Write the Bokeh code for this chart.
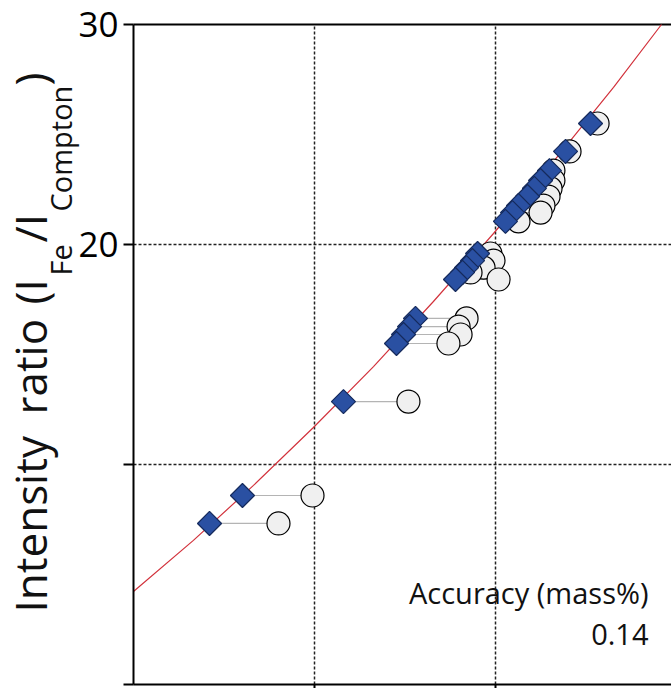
import math
from bokeh.plotting import figure
from bokeh.models import Range1d, FixedTicker, Label, ColumnDataSource, LinearAxis
from bokeh.embed import file_html
from bokeh.resources import INLINE

# ---- data ----
# calibration curve
CAL_X = [0.0, 3.31, 6.63, 9.94, 13.26, 16.57, 19.89, 23.20, 26.52, 29.17]
CAL_Y = [4.23, 6.55, 9.05, 11.68, 14.45, 17.41, 20.50, 23.77, 27.14, 30.0]

# intensity ratio of each sample
RATIO = [7.32, 8.59, 12.86, 16.64, 16.27, 15.91, 15.50,
         19.59, 19.27, 18.95, 18.73, 18.41,
         25.50, 24.23, 23.36, 22.91, 22.55, 22.18, 21.77, 21.45, 21.05]
# corrected (blue diamonds)
CORRECTED = [4.20, 6.02, 11.60, 15.58, 15.25, 14.92, 14.53,
             19.01, 18.73, 18.40, 18.18, 17.79,
             25.25, 23.87, 22.98, 22.49, 22.15, 21.77, 21.27, 20.94, 20.55]
# uncorrected (open circles)
UNCORRECTED = [8.01, 9.89, 15.19, 18.40, 17.96, 18.07, 17.40,
               19.72, 19.89, 19.34, 18.62, 20.17,
               25.64, 24.09, 23.20, 23.20, 23.04, 22.93, 22.65, 22.49, 21.27]

Y_TICKS = [0, 10, 20, 30]
Y_TICK_LABELS = {0: "", 10: "", 20: "20", 30: "30"}
GRID_X = [10, 20]
GRID_Y = [10, 20]
X_END = 29.72
Y_END = 30
ACCURACY_TITLE = "Accuracy (mass%)"
ACCURACY_VALUE = "0.14"

FONT = "Open Sans"

# page-pixel layout: axis at x=133, y=0 at 684 px, y=30 at 24 px
PX_X = 18.1   # px per x unit
PX_Y = 22.0   # px per y unit


def px_x(px):
    return (px - 133) / PX_X


def px_y(py):
    return (684 - py) / PX_Y


p = figure(width=671, height=688, output_backend="svg", toolbar_location=None,
           x_range=Range1d(px_x(0), px_x(671)), y_range=Range1d(px_y(688), px_y(0)),
           min_border_left=0, min_border_right=0, min_border_top=0,
           min_border_bottom=0)
p.outline_line_color = None
p.background_fill_color = "white"
p.border_fill_color = "white"
p.xaxis.visible = False
p.yaxis.visible = False
p.xgrid.visible = False
p.ygrid.visible = False

# y axis fixed at x=0
yax = LinearAxis(fixed_location=0, bounds=(0, Y_END))
yax.ticker = FixedTicker(ticks=Y_TICKS)
yax.major_label_overrides = Y_TICK_LABELS
yax.axis_line_width = 2
yax.axis_line_color = "black"
yax.major_tick_line_width = 2
yax.major_tick_line_color = "black"
yax.major_tick_out = 10
yax.major_tick_in = 0
yax.minor_tick_line_color = None
yax.major_label_text_font = FONT
yax.major_label_text_font_size = "35px"
yax.major_label_text_color = "black"
yax.major_label_standoff = 5
p.add_layout(yax, "left")

# x axis fixed at y=0 (labels cut off in the original)
xax = LinearAxis(fixed_location=0, bounds=(0, X_END))
xax.ticker = FixedTicker(ticks=GRID_X)
xax.major_label_overrides = {t: "" for t in GRID_X}
xax.axis_line_width = 2
xax.axis_line_color = "black"
xax.major_tick_line_width = 2
xax.major_tick_line_color = "black"
xax.major_tick_out = 8
xax.major_tick_in = 0
xax.minor_tick_line_color = None
p.add_layout(xax, "below")

# dotted grid lines from the axes
p.segment(x0=GRID_X, y0=[0] * len(GRID_X), x1=GRID_X, y1=[Y_END] * len(GRID_X),
          line_color="#222222", line_dash="3 2", line_width=1.5)
p.segment(x0=[0] * len(GRID_Y), y0=GRID_Y, x1=[X_END] * len(GRID_Y), y1=GRID_Y,
          line_color="#222222", line_dash="3 2", line_width=1.5)
# top frame line
p.segment(x0=[0], y0=[Y_END], x1=[X_END], y1=[Y_END], line_color="black", line_width=2)

# calibration line
p.line(CAL_X, CAL_Y, line_color="#d2323c", line_width=1.2)

src = ColumnDataSource(dict(y=RATIO, xc=CORRECTED, xu=UNCORRECTED))
p.segment(x0="xc", y0="y", x1="xu", y1="y", source=src,
          line_color="#b4b4b4", line_width=1.2)
p.scatter(x="xu", y="y", source=src, marker="circle", size=23,
          fill_color="#f0f0f0", line_color="black", line_width=1.2)
p.scatter(x="xc", y="y", source=src, marker="square", size=17, angle=math.pi / 4,
          fill_color="#2a50a2", line_color="#152a5c", line_width=1.2)

# accuracy annotation
p.add_layout(Label(x=px_x(648), y=px_y(592), text=ACCURACY_TITLE, text_font=FONT,
                   text_font_size="29px", text_align="right", text_baseline="alphabetic",
                   text_color="#111111"))
p.add_layout(Label(x=px_x(648), y=px_y(634), text=ACCURACY_VALUE, text_font=FONT,
                   text_font_size="29px", text_align="right", text_baseline="alphabetic",
                   text_color="#111111"))

# y-axis title with subscripts, rotated (reading bottom to top)
pieces = [
    ("Intensity", 29, 612, "44px"),
    ("ratio", 29, 414, "44px"),
    ("(I", 29, 304, "44px"),
    ("Fe", 60, 275, "29px"),
    ("/I", 29, 242, "44px"),
    ("Compton", 60, 211, "29px"),
    (")", 29, 85, "44px"),
]
for txt, bx, by, fs in pieces:
    p.add_layout(Label(x=px_x(bx), y=px_y(by), text=txt, text_font=FONT,
                       text_font_size=fs, angle=math.pi / 2, text_align="left",
                       text_baseline="alphabetic", text_color="#111111"))

open("out.html", "w").write(file_html(p, INLINE))
